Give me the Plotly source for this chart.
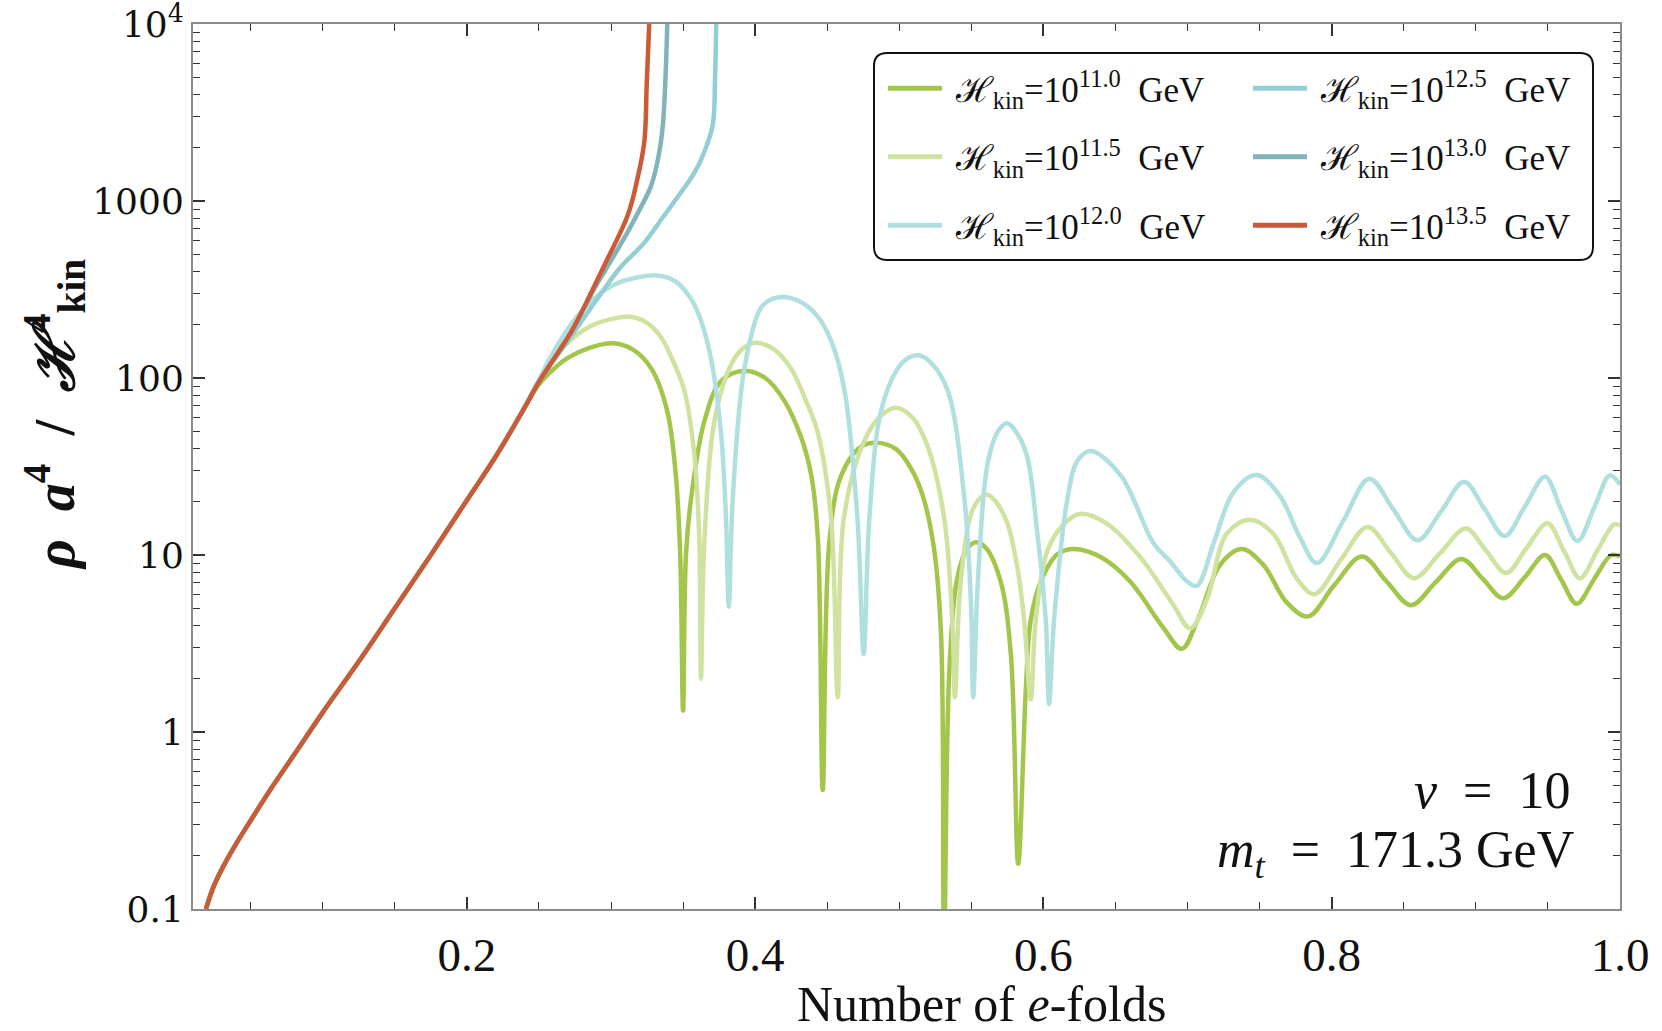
import plotly.graph_objects as go

# ---------------- data ----------------
series_names = ["11.0", "11.5", "12.0", "12.5", "13.0", "13.5"]
colors = ["#a2c64a", "#d0e29f", "#b0dfe0", "#93ced4", "#80b3ba", "#cb5a37"]

# shared early rise (all six curves coincide here)
trunk_x = [0.019, 0.024, 0.031, 0.040, 0.050, 0.065, 0.080, 0.100, 0.125, 0.150, 0.175, 0.200, 0.220, 0.240]
trunk_y = [0.10, 0.132, 0.174, 0.234, 0.316, 0.49, 0.74, 1.29, 2.5, 5.0, 10.0, 20.4, 36, 68]

x_110 = [0.250, 0.260, 0.270, 0.285, 0.301, 0.315, 0.328, 0.339, 0.345, 0.348, 0.350,
         0.352, 0.3556, 0.3648, 0.3763, 0.3925, 0.407, 0.420, 0.432, 0.439, 0.4435, 0.4469,
         0.4515, 0.4596, 0.4735, 0.486, 0.498, 0.508, 0.516, 0.524, 0.529, 0.531,
         0.5347, 0.5405, 0.547, 0.553, 0.560, 0.5705, 0.5774, 0.5825,
         0.5878, 0.5912, 0.5982, 0.6097, 0.6212, 0.640, 0.660, 0.683, 0.696, 0.707, 0.7226,
         0.7376, 0.7525, 0.7687, 0.7836, 0.802, 0.821, 0.838, 0.855, 0.872, 0.890, 0.905,
         0.919, 0.934, 0.948, 0.959, 0.970, 0.982, 0.994, 1.0]
y_110 = [92, 112, 130, 148, 157, 145, 113, 65, 28, 10, 1.32,
         10, 21, 57, 96, 110, 100, 75, 46, 28, 12.5, 0.47,
         11.9, 28, 41, 43, 39.5, 31, 22, 11, 3.5, 0.05,
         2.2, 7.6, 10.8, 11.8, 11.0, 7.0, 2.75, 0.18,
         1.76, 4.3, 7.1, 10.1, 10.8, 9.7, 7.1, 3.9, 2.95, 4.3, 8.8,
         10.8, 8.8, 5.4, 4.5, 6.8, 9.8, 7.1, 5.2, 7.0, 9.5, 7.3,
         5.7, 7.5, 10.0, 7.3, 5.3, 7.3, 10.0, 9.8]

x_115 = [0.255, 0.270, 0.285, 0.300, 0.3136, 0.325, 0.3347, 0.343, 0.3509, 0.3578, 0.3613, 0.3624,
         0.3648, 0.3717, 0.3835, 0.392, 0.4006, 0.413, 0.4249, 0.436, 0.4435, 0.4527, 0.4573,
         0.4615, 0.4754, 0.487, 0.4977, 0.509, 0.5197, 0.5312, 0.537, 0.5386,
         0.5424, 0.5494, 0.555, 0.5606, 0.567, 0.5751, 0.582, 0.5866, 0.5912,
         0.5947, 0.6028, 0.6143, 0.6258, 0.6442, 0.6673, 0.6903, 0.7018, 0.7134, 0.7272,
         0.7433, 0.7594, 0.7756, 0.788, 0.806, 0.8248, 0.841, 0.857, 0.875, 0.893, 0.907,
         0.921, 0.935, 0.9497, 0.961, 0.9723, 0.984, 0.996, 1.0]
y_115 = [112, 158, 195, 215, 222, 205, 170, 125, 85, 37, 12, 2.0,
         12, 57, 120, 148, 158, 145, 113, 72, 49, 16, 1.57,
         16, 43.6, 61, 68, 60, 41, 16, 3.9, 1.57,
         6.8, 16.7, 20.5, 22, 20, 15, 8.4, 4.3, 1.53,
         4.3, 10.6, 15, 17.1, 15, 9.7, 5.2, 3.85, 5.6, 13.2,
         15.8, 13.2, 7.4, 6.0, 9.3, 14.4, 10.3, 7.4, 10.2, 14.1, 10.6,
         7.9, 10.9, 15.1, 10.6, 7.4, 10.5, 14.9, 14.6]

x_120 = [0.260, 0.275, 0.290, 0.305, 0.320, 0.3325, 0.345, 0.3556, 0.3625, 0.3695, 0.3763, 0.3798, 0.3817,
         0.3845, 0.3925, 0.4041, 0.412, 0.4202, 0.432, 0.4435, 0.453, 0.462, 0.471, 0.4753,
         0.4792, 0.4873, 0.4989, 0.5065, 0.5139, 0.522, 0.5336, 0.5451, 0.5498, 0.5513,
         0.5544, 0.5613, 0.5685, 0.5747, 0.5866, 0.5959, 0.6016, 0.6039,
         0.6074, 0.6166, 0.6235, 0.6327, 0.6535, 0.6765, 0.688, 0.6995, 0.7065, 0.718, 0.7318,
         0.7479, 0.764, 0.7779, 0.7897, 0.808, 0.826, 0.843, 0.8595, 0.876, 0.8918, 0.906,
         0.920, 0.934, 0.948, 0.959, 0.9705, 0.982, 0.993, 1.0]
y_120 = [140, 215, 290, 345, 372, 380, 350, 279, 210, 127, 49, 16, 5.1,
         21, 113, 250, 280, 287, 268, 222, 160, 85, 16, 2.75,
         16, 65, 113, 130, 134, 122, 85, 21, 5.1, 1.57,
         6.8, 33, 50, 55.5, 40.6, 13, 4.3, 1.44,
         4.3, 20.7, 34, 38.7, 28.3, 11.6, 9.2, 7.1, 6.7, 11.6, 22.6,
         28.3, 21.6, 12.6, 9.0, 15.6, 27, 18, 12.1, 17.7, 25.9, 18.2,
         12.8, 18.8, 27.7, 18.2, 12, 18.4, 28.2, 25]

x_125 = [0.250, 0.2723, 0.293, 0.3063, 0.323, 0.336, 0.3486, 0.358, 0.3648, 0.3706, 0.3722, 0.373, 0.3735]
y_125 = [95, 172, 300, 420, 580, 810, 1120, 1450, 1900, 2700, 5000, 10000, 20000]

x_130 = [0.250, 0.2723, 0.2885, 0.300, 0.3116, 0.320, 0.328, 0.333, 0.336, 0.3378, 0.339, 0.3395]
y_130 = [95, 180, 321, 460, 670, 900, 1230, 1800, 2700, 5000, 10000, 20000]

x_135 = [0.250, 0.2723, 0.285, 0.2954, 0.3116, 0.318, 0.3231, 0.3248, 0.3265, 0.3275]
y_135 = [95, 182, 290, 434, 832, 1300, 2160, 4650, 10000, 15000]

branches_x = [x_110, x_115, x_120, x_125, x_130, x_135]
branches_y = [y_110, y_115, y_120, y_125, y_130, y_135]

x_ticks = [0.2, 0.4, 0.6, 0.8, 1.0]
x_ticklabels = ["0.2", "0.4", "0.6", "0.8", "1.0"]
y_ticks = [0.1, 1, 10, 100, 1000, 10000]
y_ticklabels = ["0.1", "1", "10", "100", "1000", "10<sup>4</sup>"]

# ---------------- figure ----------------
W, H = 1662, 1031
L, R, T, B = 193, 42, 24, 122
pw, ph = W - L - R, H - T - B

def px2paper_x(v):
    return (v - L) / pw

def px2paper_y(v):
    return 1 - (v - T) / ph

fig = go.Figure()
for i, name in enumerate(series_names):
    xs = trunk_x + branches_x[i]
    ys = trunk_y + branches_y[i]
    fig.add_trace(go.Scatter(
        x=xs, y=ys, mode="lines",
        line=dict(color=colors[i], width=4.5, shape="spline", smoothing=1.0),
        name=f"\u00a0ℋ<sub>kin</sub>=10<sup>{name}</sup>  GeV",
        legend="legend" if i < 3 else "legend2",
        legendgroup=f"g{i}", legendrank=i + 1,
    ))

minor_y = []
for e in range(-1, 4):
    for m in range(2, 10):
        minor_y.append(m * 10 ** e)

axis_common = dict(
    showline=True, linecolor="#8c8c8c", linewidth=2, mirror="allticks",
    ticks="inside", ticklen=12, tickwidth=1.5, tickcolor="#333333",
    showgrid=False, zeroline=False, ticklabeloverflow="allow",
)

fig.update_xaxes(
    range=[0.01, 1.0], tickmode="array", tickvals=x_ticks, ticktext=x_ticklabels,
    tickfont=dict(family="Liberation Serif", size=47, color="#111"),
    minor=dict(ticks="inside", ticklen=7, tickwidth=1.2, tickcolor="#333", dtick=0.05, tick0=0, showgrid=False),
    ticklabelstandoff=4,
    **axis_common,
)
fig.update_yaxes(
    type="log", range=[-1.0003, 4.0003], tickmode="array", tickvals=y_ticks, ticktext=y_ticklabels,
    tickfont=dict(family="DejaVu Serif", size=36, color="#111"),
    minor=dict(ticks="inside", ticklen=7, tickwidth=1.2, tickcolor="#333", tickmode="array",
               tickvals=minor_y, showgrid=False),
    ticklabelstandoff=0,
    **axis_common,
)

# axis titles (placed as in the reference)
fig.add_annotation(text="Number of <i>e</i>-folds", x=px2paper_x(981), y=px2paper_y(1004),
                   xref="paper", yref="paper", xanchor="center", yanchor="middle", showarrow=False,
                   font=dict(family="Liberation Serif", size=50, color="#111"))
fig.add_annotation(text="<b><i>ρ</i>  <i>a</i><sup>4</sup>  /  <i>ℋ</i><sup>4</sup><sub>kin</sub></b>",
                   x=px2paper_x(54), y=px2paper_y(415), textangle=-90,
                   xref="paper", yref="paper", xanchor="center", yanchor="middle", showarrow=False,
                   font=dict(family="Liberation Serif", size=56, color="#111"))

# rounded legend frame
bx0, bx1, by0, by1 = 874, 1593, 53, 260
r = 13
rx, ry = r / pw, r / ph
X0, X1 = px2paper_x(bx0), px2paper_x(bx1)
Y0, Y1 = px2paper_y(by1), px2paper_y(by0)
path = (f"M {X0+rx},{Y1} L {X1-rx},{Y1} Q {X1},{Y1} {X1},{Y1-ry} "
        f"L {X1},{Y0+ry} Q {X1},{Y0} {X1-rx},{Y0} L {X0+rx},{Y0} Q {X0},{Y0} {X0},{Y0+ry} "
        f"L {X0},{Y1-ry} Q {X0},{Y1} {X0+rx},{Y1} Z")
fig.add_shape(type="path", path=path, xref="paper", yref="paper",
              line=dict(color="#111", width=2), fillcolor="white", layer="below")

leg_font = dict(family="Liberation Serif", size=35, color="#111")
leg_common = dict(bgcolor="rgba(0,0,0,0)", borderwidth=0, font=leg_font, itemwidth=54,
                  tracegroupgap=20, yanchor="top", xanchor="left", traceorder="grouped",
                  itemsizing="constant")
fig.update_layout(
    legend=dict(x=px2paper_x(883), y=px2paper_y(59), **leg_common),
    legend2=dict(x=px2paper_x(1248), y=px2paper_y(59), **leg_common),
)

fig.add_annotation(text="<i>ν</i>  =  10", x=px2paper_x(1572), y=px2paper_y(790), xref="paper", yref="paper",
                   xanchor="right", yanchor="middle", showarrow=False,
                   font=dict(family="Liberation Serif", size=52, color="#111"))
fig.add_annotation(text="<i>m</i><sub><i>t</i></sub>  =  171.3 GeV", x=px2paper_x(1576), y=px2paper_y(853),
                   xref="paper", yref="paper", xanchor="right", yanchor="middle", showarrow=False,
                   font=dict(family="Liberation Serif", size=52, color="#111"))

fig.update_layout(
    width=W, height=H, margin=dict(l=L, r=R, t=T, b=B, autoexpand=False),
    paper_bgcolor="white", plot_bgcolor="white", showlegend=True,
)

fig.write_html("out.html")
